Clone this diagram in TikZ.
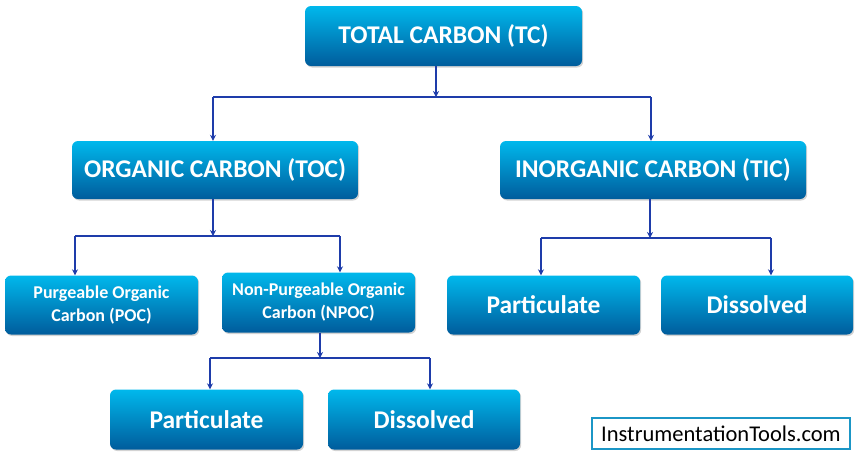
\documentclass[tikz,border=0pt]{standalone}
\usepackage{fontspec}
\setmainfont{Carlito}
\usetikzlibrary{arrows.meta, shadows}

\definecolor{boxtop}{RGB}{0,184,236}
\definecolor{boxbot}{RGB}{0,92,156}
\definecolor{linkblue}{RGB}{30,60,170}
\definecolor{markblue}{RGB}{27,150,198}

\begin{document}
\begin{tikzpicture}[x=1pt, y=-1pt,
	cbox/.style={rounded corners=6pt, top color=boxtop, bottom color=boxbot, text=white,
		font=\bfseries\fontsize{25.5}{28}\selectfont, align=center, inner sep=0,
		drop shadow={opacity=.35, shadow xshift=1.2pt, shadow yshift=-1.5pt}},
	smallbox/.style={cbox, font=\bfseries\fontsize{18}{23}\selectfont},
	link/.style={draw=linkblue, line width=1.4pt},
	arr/.style={link, -{Stealth[length=6pt, width=6pt]}}
	]
	\useasboundingbox (0,0) rectangle (860,456);
	
	% boxes
	\node (tc) at (443.5,36) [cbox, minimum width=277pt, minimum height=60pt] {TOTAL CARBON (TC)};
	\node (toc) at (215,170) [cbox, minimum width=286pt, minimum height=58pt] {ORGANIC CARBON (TOC)};
	\node (tic) at (653,170) [cbox, minimum width=306pt, minimum height=58pt] {INORGANIC CARBON (TIC)};
	
	\node (poc) at (101.5,305) [smallbox, minimum width=193pt, minimum height=59pt] {Purgeable Organic\\Carbon (POC)};
	\node (npoc) at (318.5,302.5) [smallbox, minimum width=193pt, minimum height=60pt] {Non-Purgeable Organic\\Carbon (NPOC)};
	\node (tpart) at (543.5,305) [cbox, minimum width=193pt, minimum height=59pt] {Particulate};
	\node (tdiss) at (757,305) [cbox, minimum width=192pt, minimum height=59pt] {Dissolved};
	
	\node (opart) at (206.5,419.5) [cbox, minimum width=193pt, minimum height=60pt] {Particulate};
	\node (odiss) at (424,419.5) [cbox, minimum width=192pt, minimum height=60pt] {Dissolved};
	
	\node (site) at (721,433.5) [draw=markblue, line width=1.8pt, fill=white, minimum width=258pt, minimum height=31pt, inner sep=0,
		font=\fontsize{22.5}{24}\selectfont] {InstrumentationTools.com};
	
	% first level
	\coordinate (b1) at (436,97);
	\coordinate (b1l) at (213,97);
	\coordinate (b1r) at (651,97);
	\draw [arr] (b1 |- tc.south) -- (b1);
	\draw [link] (b1l) -- (b1r);
	\draw [arr] (b1l) -- (b1l |- toc.north);
	\draw [arr] (b1r) -- (b1r |- tic.north);
	
	% organic
	\coordinate (b2) at (213,236);
	\coordinate (b2l) at (75,236);
	\coordinate (b2r) at (340,236);
	\draw [arr] (b2 |- toc.south) -- (b2);
	\draw [link] (b2l) -- (b2r);
	\draw [arr] (b2l) -- (b2l |- poc.north);
	\draw [arr] (b2r) -- (b2r |- npoc.north);
	
	% inorganic
	\coordinate (b3) at (650,238);
	\coordinate (b3l) at (541,238);
	\coordinate (b3r) at (771,238);
	\draw [arr] (b3 |- tic.south) -- (b3);
	\draw [link] (b3l) -- (b3r);
	\draw [arr] (b3l) -- (b3l |- tpart.north);
	\draw [arr] (b3r) -- (b3r |- tdiss.north);
	
	% non-purgeable
	\coordinate (b4) at (320,358);
	\coordinate (b4l) at (210,358);
	\coordinate (b4r) at (430,358);
	\draw [arr] (b4 |- npoc.south) -- (b4);
	\draw [link] (b4l) -- (b4r);
	\draw [arr] (b4l) -- (b4l |- opart.north);
	\draw [arr] (b4r) -- (b4r |- odiss.north);
\end{tikzpicture}
\end{document}
